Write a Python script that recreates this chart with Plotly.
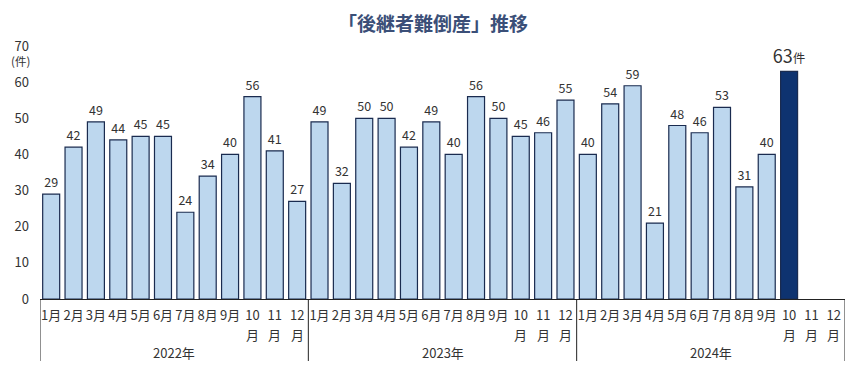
import plotly.graph_objects as go

years = ["2022年", "2023年", "2024年"]
months = ["1月", "2月", "3月", "4月", "5月", "6月", "7月", "8月", "9月", "10<br>月", "11<br>月", "12<br>月"]
v2022 = [29, 42, 49, 44, 45, 45, 24, 34, 40, 56, 41, 27]
v2023 = [49, 32, 50, 50, 42, 49, 40, 56, 50, 45, 46, 55]
v2024 = [40, 54, 59, 21, 48, 46, 53, 31, 40, 63, None, None]
y_ticks = [0, 10, 20, 30, 40, 50, 60, 70]

FONT = "Noto Sans CJK JP"
values = v2022 + v2023 + v2024
xs = list(range(len(values)))
labels = months * 3
top_lines = [lab.split("<br>")[0] for lab in labels]
second_lines = [lab.split("<br>")[1] if "<br>" in lab else "" for lab in labels]

highlight = 33  # 2024年10月
colors = ["#bdd7ee"] * len(values)
colors[highlight] = "#0e3370"
texts = ["" if v is None else str(v) for v in values]
texts[highlight] = "<span style='font-size:18px'>63</span>件"

fig = go.Figure()
fig.add_trace(go.Bar(
    x=xs, y=values, width=0.76,
    marker=dict(color=colors, line=dict(color="#1a2b4f", width=1.2)),
    text=texts, textposition="outside", cliponaxis=False,
    constraintext="none",
    textfont=dict(family=FONT, size=12.5, color="#333333"),
    hoverinfo="skip",
))

# page body has an 8px default margin, so the figure is sized to fit the window
fig.update_layout(
    width=856, height=371,
    margin=dict(l=32, r=19, t=38, b=80, autoexpand=False),
    paper_bgcolor="white", plot_bgcolor="white",
    showlegend=False,
    font=dict(family=FONT, color="#333333"),
    bargap=0.2,
)
fig.update_xaxes(
    range=[-0.5, len(values) - 0.5],
    tickvals=xs, ticktext=top_lines,
    tickfont=dict(family=FONT, size=13, color="#333333"),
    showline=True, linecolor="#222222", linewidth=1,
    showgrid=False, ticks="", zeroline=False, automargin=False,
    ticklabelstandoff=4,
)
fig.update_yaxes(
    range=[0, 70], tickvals=y_ticks,
    ticktext=[str(t) for t in y_ticks],
    tickfont=dict(family=FONT, size=13, color="#333333"),
    showgrid=False, showline=False, zeroline=False, ticks="",
    ticklabelstandoff=10, automargin=False,
)

# second line of the two-line month labels
for x, s in zip(xs, second_lines):
    if s:
        fig.add_annotation(
            text=s, xref="x", yref="paper", x=x, y=0, yshift=-35,
            xanchor="center", yanchor="middle", showarrow=False,
            font=dict(family=FONT, size=13, color="#333333"),
        )

# Title
fig.add_annotation(
    text="<b>「後継者難倒産」推移</b>", xref="paper", yref="paper",
    x=0.5, y=1.0, xshift=-10, yshift=24, xanchor="center", yanchor="middle",
    showarrow=False, font=dict(family=FONT, size=19, color="#3b4f78"),
)
# Unit label
fig.add_annotation(
    text="(件)", xref="paper", yref="y", x=0, y=70, xshift=-20, yshift=-15,
    xanchor="center", yanchor="middle", showarrow=False,
    font=dict(family=FONT, size=11.5, color="#333333"),
)

# Year separators and labels
for i, yr in enumerate(years):
    fig.add_annotation(
        text=yr, xref="x", yref="paper", x=i * 12 + 5.5, y=0, yshift=-53,
        xanchor="center", yanchor="middle", showarrow=False,
        font=dict(family=FONT, size=13, color="#333333"),
    )
for b in range(len(years) + 1):
    fig.add_shape(
        type="line", xref="x", yref="paper",
        x0=b * 12 - 0.5, x1=b * 12 - 0.5, y0=0, y1=-0.245,
        line=dict(color="#222222", width=1),
    )

fig.write_html("out.html")
